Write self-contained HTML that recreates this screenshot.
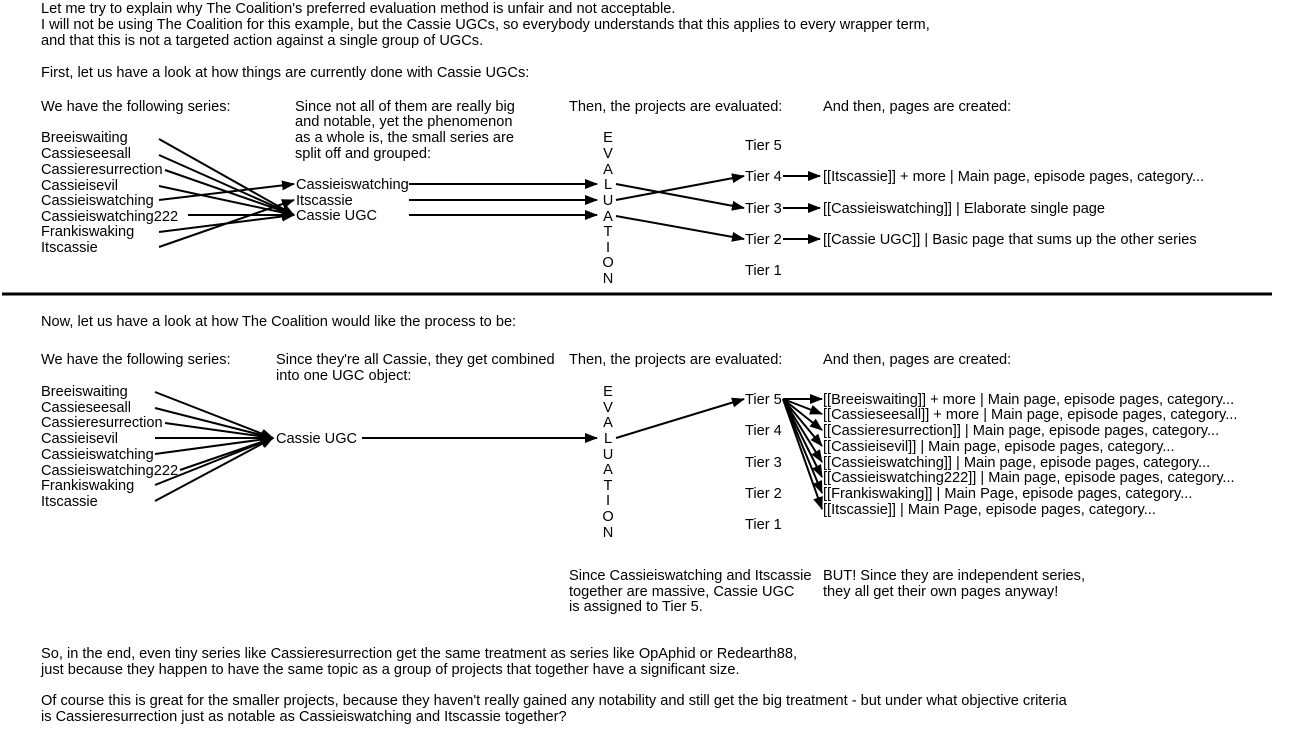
<!DOCTYPE html>
<html><head><meta charset="utf-8"><style>
html,body{margin:0;padding:0;background:#fff;}
svg text{font-family:"Liberation Sans",Arial,sans-serif;font-size:14.6px;fill:#000;}
</style></head><body>
<svg width="1303" height="729" viewBox="0 0 1303 729" xmlns="http://www.w3.org/2000/svg">
<defs><marker id="a" markerWidth="13" markerHeight="10" refX="12" refY="5" orient="auto" markerUnits="userSpaceOnUse"><path d="M0,0 L13,5 L0,10 Z" fill="#000"/></marker></defs>
<g>
<text x="41" y="13">Let me try to explain why The Coalition's preferred evaluation method is unfair and not acceptable.</text>
<text x="41" y="29">I will not be using The Coalition for this example, but the Cassie UGCs, so everybody understands that this applies to every wrapper term,</text>
<text x="41" y="45">and that this is not a targeted action against a single group of UGCs.</text>
<text x="41" y="77">First, let us have a look at how things are currently done with Cassie UGCs:</text>
<text x="41" y="111">We have the following series:</text>
<text x="295" y="111">Since not all of them are really big</text>
<text x="295" y="126">and notable, yet the phenomenon</text>
<text x="295" y="142">as a whole is, the small series are</text>
<text x="295" y="158">split off and grouped:</text>
<text x="569" y="111">Then, the projects are evaluated:</text>
<text x="823" y="111">And then, pages are created:</text>
<text x="41" y="142">Breeiswaiting</text>
<text x="41" y="158">Cassieseesall</text>
<text x="41" y="174">Cassieresurrection</text>
<text x="41" y="190">Cassieisevil</text>
<text x="41" y="205">Cassieiswatching</text>
<text x="41" y="221">Cassieiswatching222</text>
<text x="41" y="236">Frankiswaking</text>
<text x="41" y="252">Itscassie</text>
<text x="296" y="189">Cassieiswatching</text>
<text x="296" y="205">Itscassie</text>
<text x="296" y="220">Cassie UGC</text>
<g text-anchor="middle">
<text x="608" y="142">E</text><text x="608" y="158">V</text><text x="608" y="174">A</text><text x="608" y="189">L</text><text x="608" y="205">U</text><text x="608" y="221">A</text><text x="608" y="236">T</text><text x="608" y="252">I</text><text x="608" y="267">O</text><text x="608" y="283">N</text>
</g>
<text x="745" y="150">Tier 5</text><text x="745" y="181">Tier 4</text><text x="745" y="213">Tier 3</text><text x="745" y="244">Tier 2</text><text x="745" y="275">Tier 1</text>
<text x="823" y="181">[[Itscassie]] + more | Main page, episode pages, category...</text>
<text x="823" y="213">[[Cassieiswatching]] | Elaborate single page</text>
<text x="823" y="244">[[Cassie UGC]] | Basic page that sums up the other series</text>
</g>
<g stroke="#000" stroke-width="2" fill="none" marker-end="url(#a)">
<line x1="159" y1="139" x2="294" y2="215"/>
<line x1="159" y1="155" x2="294" y2="215"/>
<line x1="165" y1="170" x2="294" y2="215"/>
<line x1="159" y1="186" x2="294" y2="215"/>
<line x1="159" y1="200" x2="294" y2="184"/>
<line x1="188" y1="215" x2="294" y2="215"/>
<line x1="159" y1="232" x2="294" y2="215"/>
<line x1="159" y1="247" x2="294" y2="200"/>
<line x1="409" y1="184" x2="597" y2="184"/>
<line x1="409" y1="200" x2="597" y2="200"/>
<line x1="409" y1="215" x2="597" y2="215"/>
<line x1="616" y1="184" x2="744" y2="208"/>
<line x1="616" y1="200" x2="744" y2="176"/>
<line x1="616" y1="216" x2="744" y2="239"/>
<line x1="783" y1="176" x2="820" y2="176"/>
<line x1="783" y1="208" x2="820" y2="208"/>
<line x1="783" y1="239" x2="820" y2="239"/>
</g>
<line x1="2" y1="294" x2="1272" y2="294" stroke="#000" stroke-width="3"/>
<g>
<text x="41" y="326">Now, let us have a look at how The Coalition would like the process to be:</text>
<text x="41" y="364">We have the following series:</text>
<text x="276" y="364">Since they're all Cassie, they get combined</text>
<text x="276" y="380">into one UGC object:</text>
<text x="569" y="364">Then, the projects are evaluated:</text>
<text x="823" y="364">And then, pages are created:</text>
<text x="41" y="396">Breeiswaiting</text>
<text x="41" y="412">Cassieseesall</text>
<text x="41" y="427">Cassieresurrection</text>
<text x="41" y="443">Cassieisevil</text>
<text x="41" y="459">Cassieiswatching</text>
<text x="41" y="475">Cassieiswatching222</text>
<text x="41" y="490">Frankiswaking</text>
<text x="41" y="506">Itscassie</text>
<text x="276" y="443">Cassie UGC</text>
<g text-anchor="middle">
<text x="608" y="396">E</text><text x="608" y="412">V</text><text x="608" y="427">A</text><text x="608" y="443">L</text><text x="608" y="459">U</text><text x="608" y="474">A</text><text x="608" y="490">T</text><text x="608" y="505">I</text><text x="608" y="521">O</text><text x="608" y="537">N</text>
</g>
<text x="745" y="404">Tier 5</text><text x="745" y="435">Tier 4</text><text x="745" y="467">Tier 3</text><text x="745" y="498">Tier 2</text><text x="745" y="529">Tier 1</text>
<text x="823" y="404">[[Breeiswaiting]] + more | Main page, episode pages, category...</text>
<text x="823" y="419">[[Cassieseesall]] + more | Main page, episode pages, category...</text>
<text x="823" y="435">[[Cassieresurrection]] | Main page, episode pages, category...</text>
<text x="823" y="451">[[Cassieisevil]] | Main page, episode pages, category...</text>
<text x="823" y="467">[[Cassieiswatching]] | Main page, episode pages, category...</text>
<text x="823" y="482">[[Cassieiswatching222]] | Main page, episode pages, category...</text>
<text x="823" y="498">[[Frankiswaking]] | Main Page, episode pages, category...</text>
<text x="823" y="514">[[Itscassie]] | Main Page, episode pages, category...</text>
<text x="569" y="580">Since Cassieiswatching and Itscassie</text>
<text x="569" y="596">together are massive, Cassie UGC</text>
<text x="569" y="611">is assigned to Tier 5.</text>
<text x="823" y="580">BUT! Since they are independent series,</text>
<text x="823" y="596">they all get their own pages anyway!</text>
<text x="41" y="658">So, in the end, even tiny series like Cassieresurrection get the same treatment as series like OpAphid or Redearth88,</text>
<text x="41" y="674">just because they happen to have the same topic as a group of projects that together have a significant size.</text>
<text x="41" y="705">Of course this is great for the smaller projects, because they haven't really gained any notability and still get the big treatment - but under what objective criteria</text>
<text x="41" y="721">is Cassieresurrection just as notable as Cassieiswatching and Itscassie together?</text>
</g>
<g stroke="#000" stroke-width="2" fill="none" marker-end="url(#a)">
<line x1="155" y1="392" x2="273" y2="438"/>
<line x1="155" y1="408" x2="273" y2="438"/>
<line x1="165" y1="423" x2="273" y2="438"/>
<line x1="155" y1="438" x2="273" y2="438"/>
<line x1="155" y1="454" x2="273" y2="438"/>
<line x1="180" y1="470" x2="273" y2="438"/>
<line x1="155" y1="485" x2="273" y2="438"/>
<line x1="155" y1="501" x2="273" y2="438"/>
<line x1="362" y1="438" x2="597" y2="438"/>
<line x1="616" y1="438" x2="744" y2="399"/>
<line x1="783" y1="399" x2="822" y2="399"/>
<line x1="783" y1="399" x2="822" y2="414"/>
<line x1="783" y1="399" x2="822" y2="430"/>
<line x1="783" y1="399" x2="822" y2="446"/>
<line x1="783" y1="399" x2="822" y2="462"/>
<line x1="783" y1="399" x2="822" y2="477"/>
<line x1="783" y1="399" x2="822" y2="493"/>
<line x1="783" y1="399" x2="822" y2="509"/>
</g>
</svg>
</body></html>
